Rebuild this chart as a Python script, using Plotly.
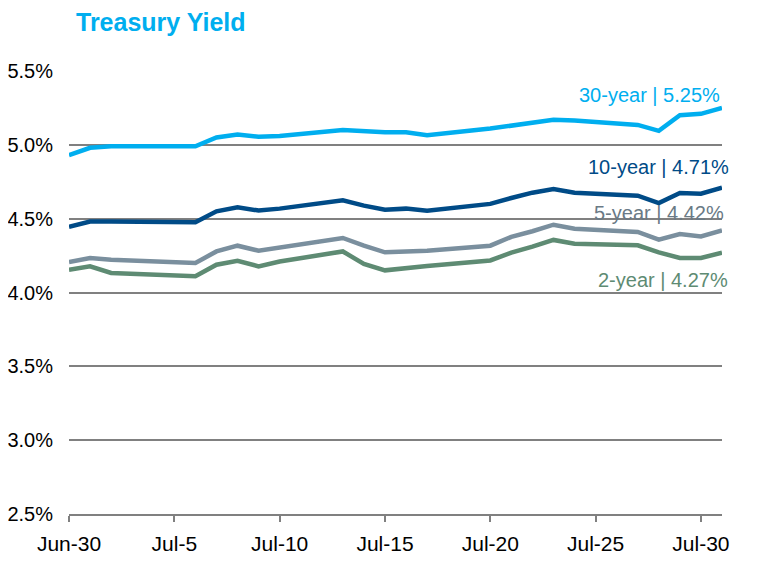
import plotly.graph_objects as go

# Trading days shown on the chart (Jul-3 holiday and weekends skipped)
dates = [
    "2020-06-30", "2020-07-01", "2020-07-02", "2020-07-06", "2020-07-07",
    "2020-07-08", "2020-07-09", "2020-07-10", "2020-07-13", "2020-07-14",
    "2020-07-15", "2020-07-16", "2020-07-17", "2020-07-20", "2020-07-21",
    "2020-07-22", "2020-07-23", "2020-07-24", "2020-07-27", "2020-07-28",
    "2020-07-29", "2020-07-30", "2020-07-31",
]

yield_30y = [4.93, 4.98, 4.99, 4.99, 5.05, 5.07, 5.055, 5.06, 5.10, 5.09,
             5.085, 5.085, 5.065, 5.11, 5.13, 5.155, 5.17, 5.165, 5.135, 5.095,
             5.20, 5.21, 5.25]
yield_10y = [4.445, 4.48, 4.48, 4.475, 4.55, 4.577, 4.555, 4.568, 4.624, 4.588,
             4.561, 4.568, 4.554, 4.60, 4.64, 4.676, 4.70, 4.675, 4.656, 4.606,
             4.674, 4.669, 4.71]
yield_5y = [4.207, 4.234, 4.222, 4.20, 4.278, 4.317, 4.283, 4.306, 4.369, 4.317,
            4.272, 4.278, 4.283, 4.317, 4.377, 4.415, 4.459, 4.432, 4.41, 4.358,
            4.396, 4.38, 4.42]
yield_2y = [4.154, 4.177, 4.132, 4.11, 4.188, 4.215, 4.177, 4.21, 4.278, 4.193,
            4.15, 4.166, 4.18, 4.217, 4.27, 4.31, 4.356, 4.33, 4.32, 4.272,
            4.234, 4.234, 4.27]

y_ticks = [2.5, 3.0, 3.5, 4.0, 4.5, 5.0, 5.5]

# name, values, line colour, label colour, label y (in %), label x shift
series = [
    ("30-year", yield_30y, "#00aeef", "#00aeef", 5.337, 0),
    ("10-year", yield_10y, "#004b87", "#004b87", 4.85, 9),
    ("5-year", yield_5y, "#7a8f9e", "#6a7a86", 4.54, 4),
    ("2-year", yield_2y, "#5e8b73", "#5e8b73", 4.084, 8),
]

fig = go.Figure()

for name, vals, color, label_color, label_y, shift in series:
    fig.add_trace(go.Scatter(
        x=dates,
        y=vals,
        mode="lines",
        line=dict(color=color, width=4.5),
        name=name,
    ))
    fig.add_annotation(
        xref="paper", x=1, yref="y", y=label_y,
        xanchor="right", yanchor="middle", xshift=shift,
        text=f"{name} | {vals[-1]:.2f}%",
        showarrow=False,
        font=dict(size=20, color=label_color),
    )

fig.add_annotation(
    xref="paper", yref="paper", x=0, y=1.0, xshift=5, yshift=49,
    xanchor="left", yanchor="middle",
    text="<b>Treasury Yield</b>",
    showarrow=False,
    font=dict(size=25, color="#00aeef"),
)

fig.update_xaxes(
    type="date",
    range=["2020-06-30", "2020-07-31"],
    tick0="2020-06-30",
    dtick=5 * 86400000,
    tickformat="%b-%-d",
    ticks="outside",
    ticklen=6,
    tickwidth=2,
    tickcolor="#808080",
    showline=True,
    linecolor="#808080",
    linewidth=2,
    showgrid=False,
    zeroline=False,
    automargin=False,
    ticklabelstandoff=4,
    tickfont=dict(size=21, color="#000000"),
)

fig.update_yaxes(
    range=[2.5, 5.5],
    tickvals=y_ticks,
    ticktext=[f"{v:.1f}%" for v in y_ticks],
    showgrid=True,
    gridcolor="#808080",
    gridwidth=2,
    zeroline=False,
    showline=False,
    ticks="",
    automargin=False,
    ticklabelstandoff=15,
    tickfont=dict(size=20, color="#000000"),
)

# page body adds an 8px offset, so margins are trimmed to land the plot area in place
fig.update_layout(
    width=762,
    height=563,
    margin=dict(t=63, b=57, l=61, r=48),
    plot_bgcolor="#ffffff",
    paper_bgcolor="#ffffff",
    font=dict(family="Liberation Sans, Arial, sans-serif"),
    showlegend=False,
)

fig.write_html("out.html")
